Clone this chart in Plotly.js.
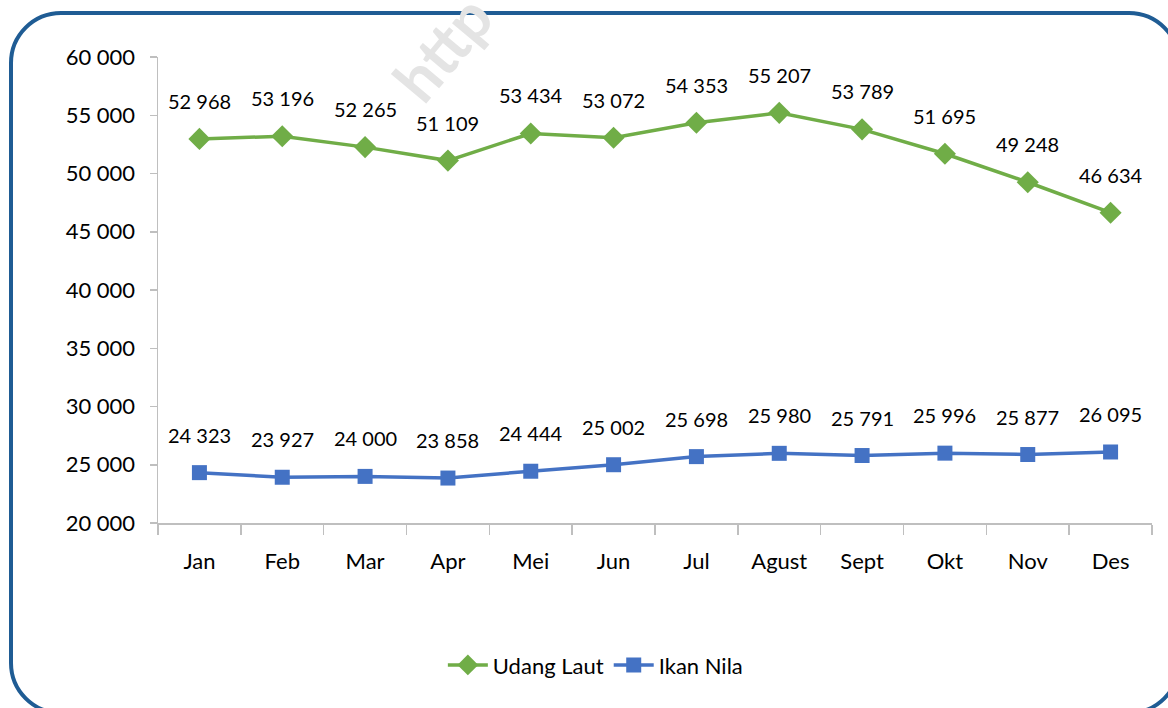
<!DOCTYPE html>
<html>
<head>
<meta charset="utf-8">
<script src="https://cdn.plot.ly/plotly-3.0.1.min.js"></script>
<style>
  html, body { margin:0; padding:0; background:#fff; overflow:hidden; }
  #frame { position:absolute; left:9px; top:11px; width:1172px; height:704px;
           border:4px solid #1F5C94; border-radius:52px; box-sizing:border-box; }
  #chart { position:absolute; left:0; top:0; width:1168px; height:708px; }
</style>
</head>
<body>
<div id="frame"></div>
<div id="chart"></div>
<script>
const months = ["Jan","Feb","Mar","Apr","Mei","Jun","Jul","Agust","Sept","Okt","Nov","Des"];
const udangLaut = [52968, 53196, 52265, 51109, 53434, 53072, 54353, 55207, 53789, 51695, 49248, 46634];
const ikanNila  = [24323, 23927, 24000, 23858, 24444, 25002, 25698, 25980, 25791, 25996, 25877, 26095];
const yTicks = [20000, 25000, 30000, 35000, 40000, 45000, 50000, 55000, 60000];

const FONT = 'Lato, "Open Sans", sans-serif';
const fmt = v => String(v).replace(/\B(?=(\d{3})+(?!\d))/g, " ");

const GREEN = "#70AD47", BLUE = "#4472C4";

const traces = [
  { x: months, y: udangLaut, name: "Udang Laut", type: "scatter", mode: "lines+markers",
    line: { color: GREEN, width: 3.5 }, marker: { symbol: "diamond", size: 17, color: GREEN },
    hoverinfo: "skip" },
  { x: months, y: ikanNila, name: "Ikan Nila", type: "scatter", mode: "lines+markers",
    line: { color: BLUE, width: 3.5 }, marker: { symbol: "square", size: 15, color: BLUE },
    hoverinfo: "skip" }
];

const annotations = [];
annotations.push({ xref: "paper", yref: "paper", x: 0.285, y: 1.02, text: "http",
  showarrow: false, textangle: -50, font: { family: "Lato", size: 62, weight: 700, color: "#e4e4e4" },
  xanchor: "center", yanchor: "middle" });
[udangLaut, ikanNila].forEach(series => {
  series.forEach((v, i) => {
    annotations.push({ x: months[i], y: v, xref: "x", yref: "y", text: fmt(v),
      showarrow: false, yshift: 38, font: { family: FONT, size: 20, color: "#000" } });
  });
});

const layout = {
  width: 1168, height: 708,
  paper_bgcolor: "rgba(0,0,0,0)", plot_bgcolor: "rgba(0,0,0,0)",
  margin: { l: 158, r: 16, t: 57, b: 185 },
  showlegend: true,
  legend: { orientation: "h", x: 0.44, xanchor: "center", y: -0.305, yanchor: "middle",
            font: { family: FONT, size: 22, color: "#000" }, itemwidth: 40,
            bgcolor: "rgba(0,0,0,0)" },
  xaxis: { type: "category", range: [-0.5, 11.5], tickson: "boundaries",
           showline: true, linecolor: "#bfbfbf", linewidth: 1.5,
           ticks: "outside", ticklen: 10, tickcolor: "#bfbfbf", tickwidth: 1.5,
           showgrid: false, zeroline: false,
           tickfont: { family: FONT, size: 22, color: "#000" }, ticklabelstandoff: 18 },
  yaxis: { range: [20000, 60000], tickvals: yTicks, ticktext: yTicks.map(fmt),
           showline: true, linecolor: "#bfbfbf", linewidth: 1.5,
           ticks: "outside", ticklen: 7, tickcolor: "#bfbfbf", tickwidth: 1.5,
           showgrid: false, zeroline: false,
           tickfont: { family: FONT, size: 22, color: "#000" }, ticklabelstandoff: 10 },
  annotations: annotations
};

Plotly.newPlot("chart", traces, layout, { staticPlot: true, displayModeBar: false });
</script>
</body>
</html>
